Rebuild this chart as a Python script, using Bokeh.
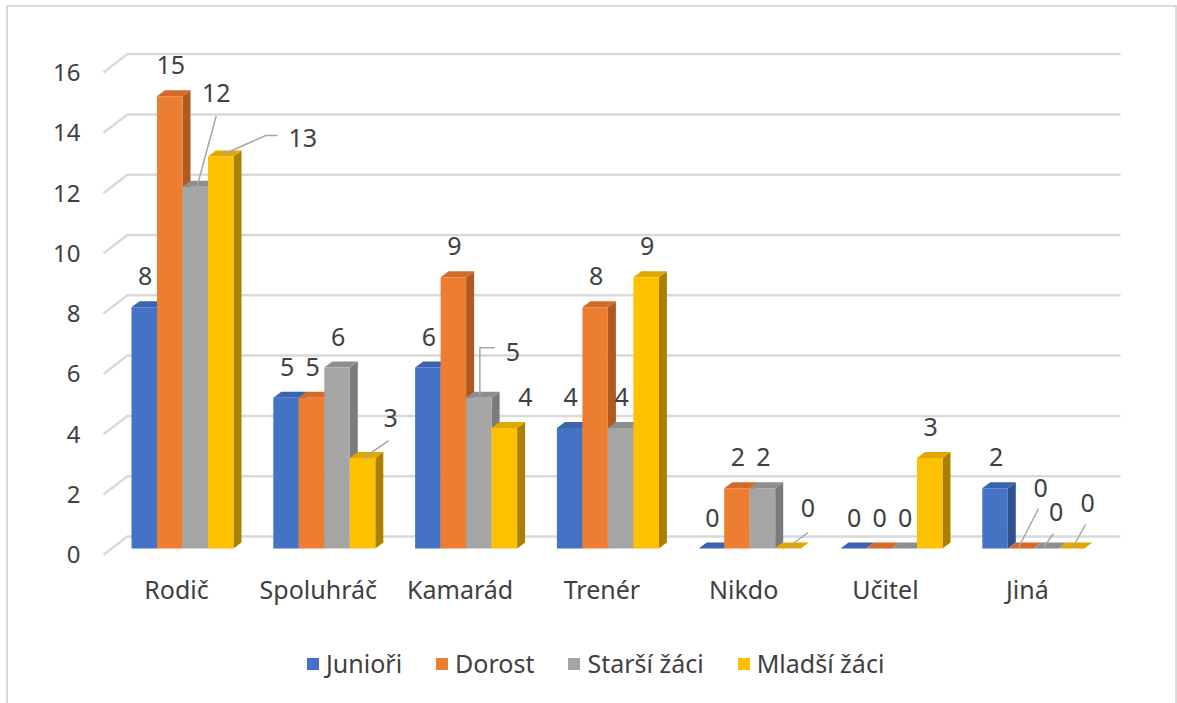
from bokeh.plotting import figure
from bokeh.layouts import column
from bokeh.models import (FixedTicker, Legend, LegendItem, ColumnDataSource,
                          Range1d, LinearAxis)
from bokeh.core.properties import value
from bokeh.embed import file_html
from bokeh.resources import INLINE

# ---------------- data ----------------
categories = ["Rodič", "Spoluhráč", "Kamarád", "Trenér", "Nikdo", "Učitel", "Jiná"]
series_names = ["Junioři", "Dorost", "Starší žáci", "Mladší žáci"]
juniori = [8, 5, 6, 4, 0, 0, 2]
dorost = [15, 5, 9, 8, 2, 0, 0]
starsi_zaci = [12, 6, 5, 4, 2, 0, 0]
mladsi_zaci = [13, 3, 4, 9, 0, 3, 0]
y_ticks = [0, 2, 4, 6, 8, 10, 12, 14, 16]

values = [juniori, dorost, starsi_zaci, mladsi_zaci]

# ---------------- styles ----------------
front_colors = ["#4472C4", "#ED7D31", "#A5A5A5", "#FFC000"]
top_colors = ["#3A64B0", "#D4692A", "#8E8E8E", "#E0A800"]
side_colors = ["#2F528F", "#AE5A21", "#7B7B7B", "#A98000"]
TEXT = "#404040"
GRID = "#D9D9D9"
FONT = "Noto Sans"

W, H_MAIN, H_LEG = 1177, 620, 83
FL, FR, FT, FB = 100, 1125, 40, 565          # frame box in canvas px
X0, X1 = -0.5783, 6.6502
Y0, Y1 = -0.5638, 16.849
PXX = (FR - FL) / (X1 - X0)
PXY = (FB - FT) / (Y1 - Y0)
BW = 25.5 / PXX            # bar width
DX = 8 / PXX               # depth offset
DY = 6 / PXY
YS = -0.21                 # y tick-label shift (front edge of 3D floor)
XS = -6 / PXX              # category label shift
GRID_BACK = 12 / PXY       # back wall grid offset
XC = 182                   # px of category 0
GX_FRONT, GX_BACK, GX_END = (103 - XC) / PXX, (127 - XC) / PXX, (1120 - XC) / PXX

# label placement (px from bar top-centre); default above the bar
DEFAULT_LBL = (1, -31)
label_pos = {
    (2, 0): (21, -94), (3, 0): (82, -19), (3, 1): (28, -40),
    (2, 2): (34, -46), (3, 2): (21, -31), (3, 4): (20, -41),
    (1, 6): (20, -61), (2, 6): (10, -37), (3, 6): (16, -46),
}
leaders = {
    (2, 0): [(2, -1), (21, -71)],
    (3, 0): [(2, -2), (45, -21), (57, -21)],
    (3, 1): [(1, 0), (26, -17.5)],
    (2, 2): [(1, -2), (1, -50), (16, -50)],
    (3, 4): [(0, -1), (20, -16)],
    (1, 6): [(-2, -1), (18, -40)],
    (2, 6): [(-2.5, -1), (7.5, -15)],
    (3, 6): [(1, -1), (14, -24)],
}

p = figure(width=W, height=H_MAIN, output_backend="svg", toolbar_location=None,
           x_range=Range1d(X0, X1), y_range=Range1d(Y0, Y1),
           x_axis_location=None, y_axis_location=None,
           min_border_left=FL, min_border_right=W - FR,
           min_border_top=FT, min_border_bottom=H_MAIN - FB)
p.border_fill_color = None
p.background_fill_color = None
p.outline_line_color = None
p.grid.visible = False

# ---------------- 3D gridlines ----------------
gx, gy = [], []
for v in y_ticks:
    gx.append([GX_FRONT, GX_BACK, GX_END])
    gy.append([v + YS, v + GRID_BACK, v + GRID_BACK])
p.multi_line(gx, gy, line_color=GRID, line_width=2.5)

# ---------------- bars ----------------
n = len(categories)
px_, py_, pc_ = [], [], []
for i in range(n):
    for k in range(4):
        v = values[k][i]
        l = i - 2 * BW + k * BW
        r = l + BW
        px_.append([r, r + DX, r + DX, r])          # side face
        py_.append([0, DY, v + DY, v])
        pc_.append(side_colors[k])
        px_.append([l, r, r + DX, l + DX])          # top face
        py_.append([v, v, v + DY, v + DY])
        pc_.append(top_colors[k])
p.patches(px_, py_, fill_color=pc_, line_color=None)

for k in range(4):
    lefts = [i - 2 * BW + k * BW for i in range(n)]
    src = ColumnDataSource(dict(left=lefts, right=[x + BW for x in lefts],
                                top=values[k], bottom=[0] * n))
    p.quad(left="left", right="right", top="top", bottom="bottom",
           source=src, fill_color=front_colors[k], line_color=None)

# ---------------- data labels + leader lines ----------------
lx, ly, lt, lxo, lyo = [], [], [], [], []
mx, my = [], []
for k in range(4):
    for i in range(n):
        v = values[k][i]
        cx = i - 2 * BW + (k + 0.5) * BW
        dx, dy = label_pos.get((k, i), DEFAULT_LBL)
        lx.append(cx); ly.append(v); lt.append(str(v))
        lxo.append(dx); lyo.append(dy)
        if (k, i) in leaders:
            pts = leaders[(k, i)]
            mx.append([cx + a / PXX for a, b in pts])
            my.append([v - b / PXY for a, b in pts])
p.multi_line(mx, my, line_color="#A6A6A6", line_width=1.5)
p.text(x="x", y="y", text="t", x_offset="xo", y_offset="yo",
       source=ColumnDataSource(dict(x=lx, y=ly, t=lt, xo=lxo, yo=lyo)),
       text_font=value(FONT), text_font_size="25px", text_color=TEXT,
       text_align="center", text_baseline="middle")

# ---------------- axes ----------------
p.extra_y_ranges = {"lbl": Range1d(Y0 - YS, Y1 - YS)}
p.extra_x_ranges = {"lbl": Range1d(X0 - XS, X1 - XS)}

yax = LinearAxis(y_range_name="lbl", ticker=FixedTicker(ticks=y_ticks))
xax = LinearAxis(x_range_name="lbl", ticker=FixedTicker(ticks=list(range(n))),
                 major_label_overrides={i: c for i, c in enumerate(categories)})
for ax in (yax, xax):
    ax.axis_line_color = None
    ax.major_tick_line_color = None
    ax.minor_tick_line_color = None
    ax.major_tick_out = 0
    ax.major_tick_in = 0
    ax.major_label_text_font = FONT
    ax.major_label_text_color = TEXT
yax.major_label_text_font_size = "24px"
yax.major_label_standoff = 20
xax.major_label_text_font_size = "25px"
xax.major_label_standoff = 6
p.add_layout(yax, "left")
p.add_layout(xax, "below")

# ---------------- legend (own strip below the chart) ----------------
pl = figure(width=W, height=H_LEG, output_backend="svg", toolbar_location=None,
            x_range=Range1d(0, 1), y_range=Range1d(0, 1),
            x_axis_location=None, y_axis_location=None,
            min_border_left=0, min_border_right=0, min_border_top=0, min_border_bottom=0)
pl.border_fill_color = None
pl.background_fill_color = None
pl.outline_line_color = None
pl.grid.visible = False
# legend keys: one swatch per series, kept outside the strip's visible range
leg_renderers = [pl.quad(left=[2], right=[3], top=[3], bottom=[2],
                         fill_color=c, line_color=None) for c in front_colors]
legend = Legend(items=[LegendItem(label=s, renderers=[r])
                       for s, r in zip(series_names, leg_renderers)],
                orientation="horizontal", location=(205, 23),
                glyph_width=15, glyph_height=15, label_standoff=6, spacing=32,
                padding=0, margin=0, border_line_color=None,
                background_fill_alpha=0,
                label_text_font=FONT, label_text_font_size="25px",
                label_text_color=TEXT)
pl.add_layout(legend)

layout = column(p, pl, spacing=0)
layout.styles = {"background-color": "white",
                 "box-shadow": "inset 6px 5px 0 0 white, inset 8px 7px 0 0 #D9D9D9, "
                               "inset -2px 0 0 0 #D9D9D9"}

open("out.html", "w").write(file_html(layout, INLINE))
